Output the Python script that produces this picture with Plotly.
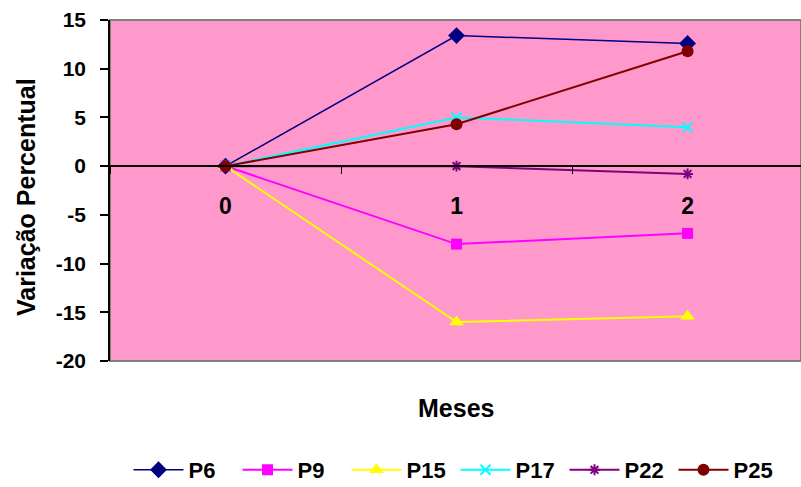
import plotly.graph_objects as go

# Months (category axis) and percentage variation per sample
meses = ["0", "1", "2"]
p6 = [0.0, 13.4, 12.6]
p9 = [0.0, -8.0, -6.9]
p15 = [0.0, -16.0, -15.4]
p17 = [0.0, 5.0, 4.0]
p22 = [0.0, 0.0, -0.8]
p25 = [0.0, 4.3, 11.8]

# Y tick values and labels (plain hyphen for negatives)
y_ticks = [15, 10, 5, 0, -5, -10, -15, -20]
y_tick_labels = ["15", "10", "5", "0", "-5", "-10", "-15", "-20"]

series = [
    ("P6", p6, "#000080", "diamond", 13, 1.5),
    ("P9", p9, "#FF00FF", "square", 11, 2),
    ("P15", p15, "#FFFF00", "triangle-up", 13, 2),
    ("P17", p17, "#00FFFF", "x-thin", 10, 2),
    ("P22", p22, "#800080", "asterisk", 9, 2),
    ("P25", p25, "#800000", "circle", 12, 2),
]

FONT = "Liberation Sans, Arial, sans-serif"

fig = go.Figure()
for name, vals, color, symbol, size, lw in series:
    marker = dict(symbol=symbol, size=size, color=color,
                  line=dict(color=color, width=2 if symbol in ("x-thin", "asterisk") else 0))
    fig.add_trace(go.Scatter(
        x=meses, y=vals, name=name, mode="lines+markers",
        line=dict(color=color, width=lw), marker=marker,
    ))

fig.update_layout(
    width=801, height=487,
    margin=dict(l=110, r=0, t=20, b=126),
    paper_bgcolor="white",
    plot_bgcolor="#FF99CC",
    font=dict(family=FONT, color="black", size=19, weight="bold"),
    showlegend=True,
    legend=dict(
        orientation="h", x=0.5, xanchor="center",
        yref="container", y=0.035, yanchor="middle",
        font=dict(family=FONT, size=22, weight="bold"),
        entrywidth=44, itemwidth=50,
        bgcolor="rgba(0,0,0,0)",
    ),
    xaxis=dict(
        type="category", range=[-0.5, 2.491],
        anchor="free", position=20 / 35,
        showline=True, linecolor="black", linewidth=1.5,
        ticks="outside", tickson="boundaries", ticklen=7, tickcolor="black", tickwidth=1,
        ticklabelstandoff=20,
        tickfont=dict(family=FONT, size=23, weight="bold"),
        showgrid=False, zeroline=False,
    ),
    yaxis=dict(
        range=[-20, 15], tickvals=y_ticks,
        ticktext=["<b>%s</b>" % t for t in y_tick_labels],
        showline=True, linecolor="black", linewidth=1.5,
        ticks="outside", ticklen=8, tickcolor="black", tickwidth=1.5,
        ticklabelstandoff=10,
        tickfont=dict(family=FONT, size=21, weight="bold"),
        showgrid=False, zeroline=False,
    ),
    shapes=[dict(type="rect", xref="paper", yref="paper", x0=0, x1=1, y0=0, y1=1,
                 line=dict(color="#808080", width=2), layer="below")],
    annotations=[
        dict(text="<b>Meses</b>", xref="paper", yref="paper", x=0.5, y=(361 - 408) / 341,
             xanchor="center", yanchor="middle", showarrow=False,
             font=dict(family=FONT, size=25)),
        dict(text="<b>Variação Percentual</b>", xref="paper", yref="paper",
             x=(26 - 110) / 691, y=(361 - 197) / 341, textangle=-90,
             xanchor="center", yanchor="middle", showarrow=False,
             font=dict(family=FONT, size=25)),
    ],
)

fig.write_html("out.html")
